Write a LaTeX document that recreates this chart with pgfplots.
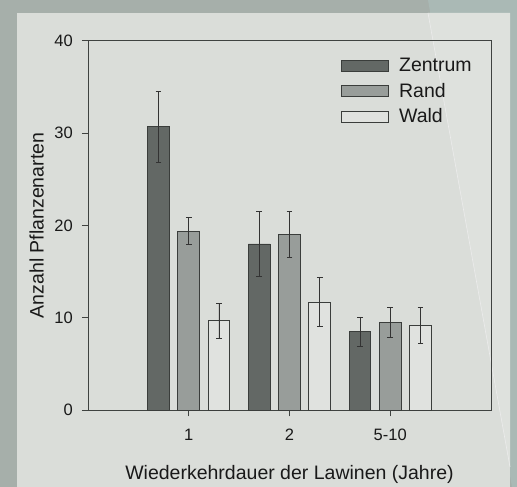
\documentclass[border=0pt]{standalone}
\usepackage{pgfplots}
\pgfplotsset{compat=1.18}
\usepackage{fontspec}
\setmainfont{Liberation Sans}
\definecolor{outerbg}{HTML}{A6AFAA}
\definecolor{outerbgb}{HTML}{AAB9B5}
\definecolor{panelbg}{HTML}{DADDD9}
\definecolor{panelbgb}{HTML}{DEE1DD}
\definecolor{zentrum}{HTML}{636865}
\definecolor{rand}{HTML}{989D9A}
\definecolor{wald}{HTML}{E0E2DF}
\definecolor{edge}{HTML}{3A3D3B}
\definecolor{axiscol}{HTML}{3F4240}
\begin{document}
\begin{tikzpicture}
\useasboundingbox (0,0) rectangle (517pt,487pt);
\fill[outerbg] (0,0) rectangle (517pt,487pt);
\fill[outerbgb] (428pt,487pt) -- (517pt,487pt) -- (517pt,0) -- (512pt,0) -- cycle;
\fill[panelbg] (16.5pt,0) rectangle (510pt,474pt);
\fill[panelbgb] (428pt,474pt) -- (510pt,474pt) -- (510pt,20pt) -- cycle;
\draw[white!85!gray, line width=0.6pt] (428pt,474pt) -- (510pt,20pt);
\begin{axis}[
  at={(88pt,76.7pt)}, anchor=south west,
  scale only axis, width=403pt, height=369.6pt,
  ybar,
  xmin=0, xmax=4, ymin=0, ymax=40,
  xtick={1,2,3}, xticklabels={1,2,5-10},
  ytick={0,10,20,30,40},
  tick align=outside, xtick pos=lower, ytick pos=left,
  major tick length=6pt,
  axis line style={axiscol, line width=0.9pt},
  every tick/.style={axiscol, line width=0.9pt},
  /pgf/number format/assume math mode=true,
  tick label style={font=\fontsize{16.5}{19}\selectfont, text=black!90},
  yticklabel style={anchor=east, inner sep=0pt, xshift=-9pt},
  xticklabel style={anchor=base, inner sep=0pt, yshift=-24pt},
  label style={font=\fontsize{19.5}{22}\selectfont, text=black!90},
  xlabel={Wiederkehrdauer der Lawinen (Jahre)},
  ylabel={Anzahl Pflanzenarten},
  xlabel style={at={(axis description cs:0.5,-0.1880)}, anchor=base, inner sep=0pt},
  ylabel style={at={(axis description cs:-0.1273,0.5)}, anchor=center, inner sep=0pt},
  bar width=0.215,
  legend image code/.code={\draw[#1] (0pt,-5.65pt) rectangle (46.7pt,5.65pt);},
  legend style={draw=none, fill=none, inner sep=0pt, outer sep=0pt,
    at={(0.6278,0.9524)}, anchor=north west, row sep=10pt,
    font=\fontsize{19.5}{22}\selectfont, text=black!90,
    nodes={inner sep=0pt},
    /tikz/every odd column/.append style={column sep=10.5pt}},
  legend cell align=left,
  error bars/y dir=both, error bars/y explicit,
  error bars/error bar style={line width=0.9pt, color=black!80},
  error bars/error mark options={rotate=90, mark size=2.9pt, line width=0.9pt, color=black!80},
]
\addplot[fill=zentrum, draw=edge, line width=0.9pt, bar shift=-0.3]
  coordinates {(1,30.7) +- (0,3.85) (2,18.0) +- (0,3.5) (3,8.5) +- (0,1.6)};
\addplot[fill=rand, draw=edge, line width=0.9pt, bar shift=0]
  coordinates {(1,19.4) +- (0,1.45) (2,19.0) +- (0,2.5) (3,9.5) +- (0,1.6)};
\addplot[fill=wald, draw=edge, line width=0.9pt, bar shift=0.3]
  coordinates {(1,9.7) +- (0,1.9) (2,11.7) +- (0,2.65) (3,9.2) +- (0,1.95)};
\legend{Zentrum, Rand, Wald}
\end{axis}
\end{tikzpicture}
\end{document}
